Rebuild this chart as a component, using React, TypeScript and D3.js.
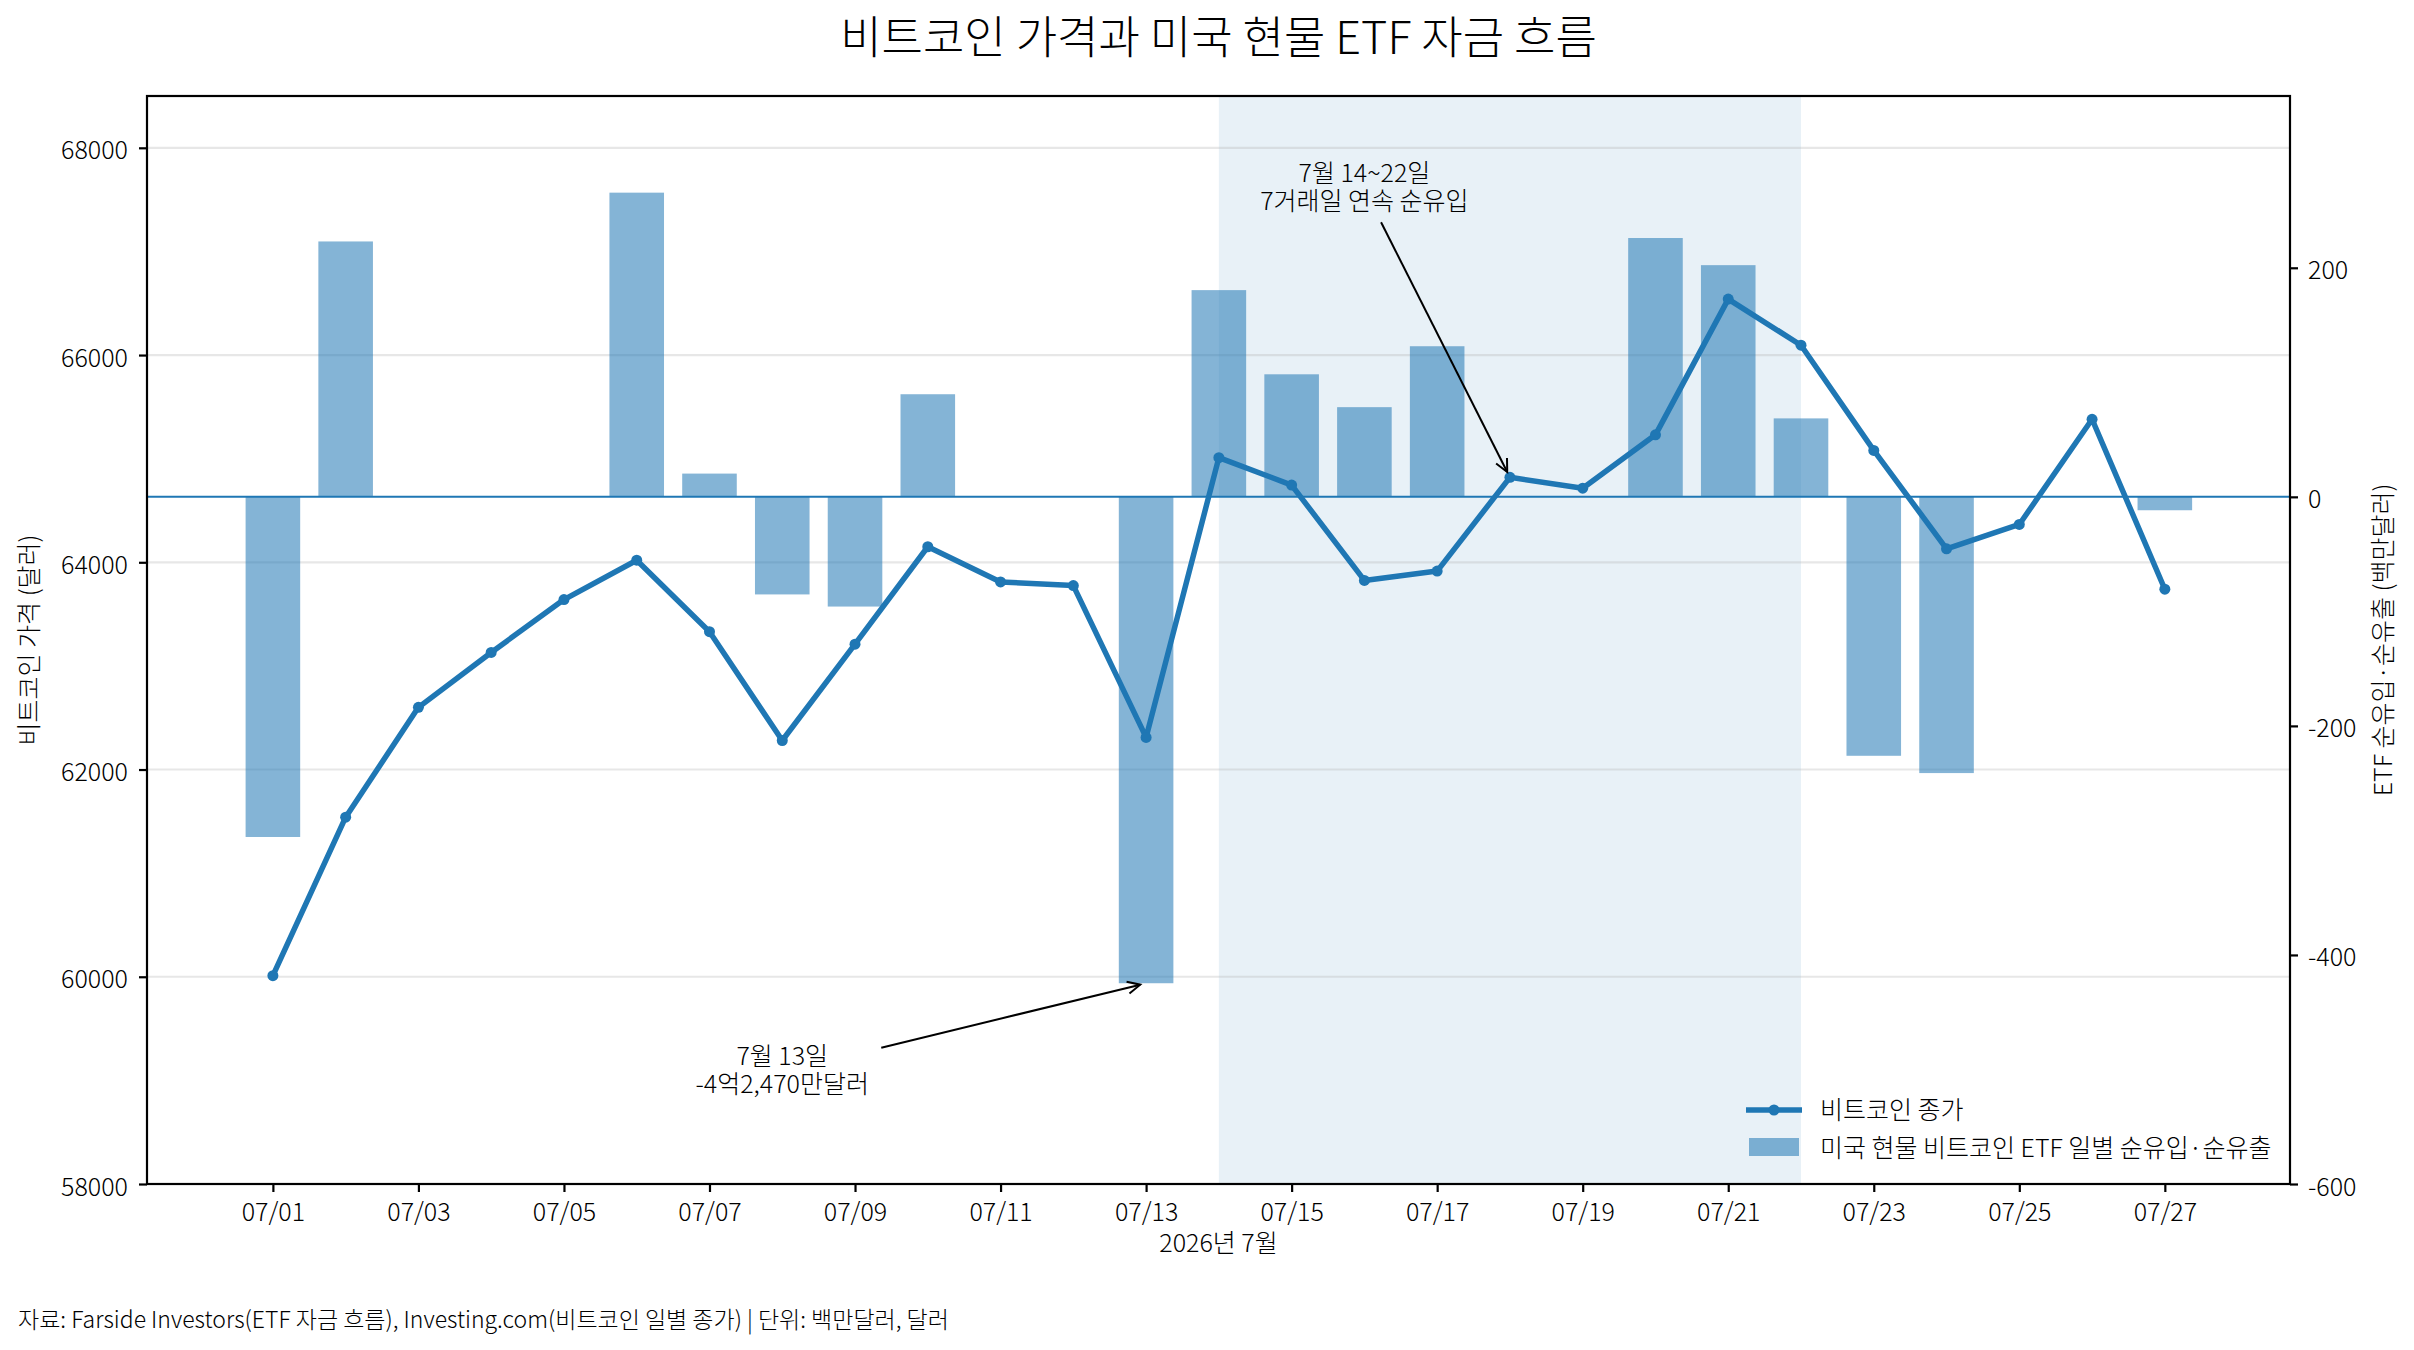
import * as d3 from "d3";
import { useEffect, useRef } from "react";

// Chart values
const days = [
  "2026-07-01", "2026-07-02", "2026-07-03", "2026-07-04", "2026-07-05", "2026-07-06", "2026-07-07",
  "2026-07-08", "2026-07-09", "2026-07-10", "2026-07-11", "2026-07-12", "2026-07-13", "2026-07-14",
  "2026-07-15", "2026-07-16", "2026-07-17", "2026-07-18", "2026-07-19", "2026-07-20", "2026-07-21",
  "2026-07-22", "2026-07-23", "2026-07-24", "2026-07-25", "2026-07-26", "2026-07-27",
];
const btcClose = [
  60010, 61540, 62600, 63130, 63640, 64020, 63330, 62280, 63210, 64150, 63810, 63775, 62310, 65010,
  64745, 63825, 63915, 64820, 64715, 65230, 66540, 66095, 65080, 64130, 64365, 65380, 63740,
];
const flowDays = [
  "2026-07-01", "2026-07-02", "2026-07-06", "2026-07-07", "2026-07-08", "2026-07-09", "2026-07-10",
  "2026-07-13", "2026-07-14", "2026-07-15", "2026-07-16", "2026-07-17", "2026-07-20", "2026-07-21",
  "2026-07-22", "2026-07-23", "2026-07-24", "2026-07-27",
];
const etfFlow = [
  -297, 223, 265.6, 20.3, -85.2, -95.8, 89.6, -424.7, 180.5, 107, 78.3, 131.5, 226, 202.3, 68.5,
  -226.1, -241.2, -11.7,
];
const xTickDays = [
  "2026-07-01", "2026-07-03", "2026-07-05", "2026-07-07", "2026-07-09", "2026-07-11", "2026-07-13",
  "2026-07-15", "2026-07-17", "2026-07-19", "2026-07-21", "2026-07-23", "2026-07-25", "2026-07-27",
];
const priceTicks = [58000, 60000, 62000, 64000, 66000, 68000];
const flowTicks = [-600, -400, -200, 0, 200];
const streakSpan = ["2026-07-14", "2026-07-22"];

const WIDTH = 2414;
const HEIGHT = 1350;
const FONT = '"Noto Sans CJK KR", "Noto Sans", sans-serif';
const BLUE = "#1f77b4";
const DAY = 864e5;

const parse = d3.timeParse("%Y-%m-%d");

const App = () => {
  const ref = useRef(null);

  useEffect(() => {
    if (ref && ref.current) ref.current.innerHTML = "";

    const margin = { top: 96, right: 124, bottom: 166, left: 147 };
    const x0 = margin.left, x1 = WIDTH - margin.right;
    const y0 = margin.top, y1 = HEIGHT - margin.bottom;

    const first = parse(days[0]), last = parse(days[days.length - 1]);
    const x = d3.scaleTime()
      .domain([new Date(+first - 1.73 * DAY), new Date(+last + 1.72 * DAY)])
      .range([x0, x1]);
    const yPrice = d3.scaleLinear().domain([58000, 68500]).range([y1, y0]);
    const yFlow = d3.scaleLinear().domain([-600, 350]).range([y1, y0]);

    const svg = d3.select(ref.current)
      .attr("width", WIDTH)
      .attr("height", HEIGHT)
      .attr("viewBox", [0, 0, WIDTH, HEIGHT])
      .style("font-family", FONT)
      .style("font-weight", 300);

    svg.append("rect").attr("width", WIDTH).attr("height", HEIGHT).attr("fill", "#fff");

    // Title
    svg.append("text")
      .attr("x", (x0 + x1) / 2)
      .attr("y", 54)
      .attr("text-anchor", "middle")
      .attr("font-size", 45)
      .attr("fill", "#000")
      .text("비트코인 가격과 미국 현물 ETF 자금 흐름");

    const plot = svg.append("g");
    const clip = svg.append("clipPath").attr("id", "plot-clip");
    clip.append("rect").attr("x", x0).attr("y", y0).attr("width", x1 - x0).attr("height", y1 - y0);
    plot.attr("clip-path", "url(#plot-clip)");

    // Shaded inflow streak
    plot.append("rect")
      .attr("x", x(parse(streakSpan[0])))
      .attr("y", y0)
      .attr("width", x(parse(streakSpan[1])) - x(parse(streakSpan[0])))
      .attr("height", y1 - y0)
      .attr("fill", BLUE)
      .attr("fill-opacity", 0.1);

    // Grid
    plot.selectAll("line.grid")
      .data(priceTicks)
      .join("line")
      .attr("class", "grid")
      .attr("x1", x0).attr("x2", x1)
      .attr("y1", d => yPrice(d)).attr("y2", d => yPrice(d))
      .attr("stroke", "#b0b0b0")
      .attr("stroke-opacity", 0.3)
      .attr("stroke-width", 2.2);

    // ETF flow bars
    const barW = x(new Date(+first + 0.75 * DAY)) - x(first);
    plot.selectAll("rect.bar")
      .data(flowDays.map((d, i) => ({ date: parse(d), v: etfFlow[i] })))
      .join("rect")
      .attr("class", "bar")
      .attr("x", d => x(d.date) - barW / 2)
      .attr("width", barW)
      .attr("y", d => yFlow(Math.max(0, d.v)))
      .attr("height", d => Math.abs(yFlow(d.v) - yFlow(0)))
      .attr("fill", BLUE)
      .attr("fill-opacity", 0.55);

    // Zero line on flow axis
    plot.append("line")
      .attr("x1", x0).attr("x2", x1)
      .attr("y1", yFlow(0)).attr("y2", yFlow(0))
      .attr("stroke", BLUE)
      .attr("stroke-width", 2);

    // Price line
    const pts = days.map((d, i) => ({ date: parse(d), v: btcClose[i] }));
    const line = d3.line().x(d => x(d.date)).y(d => yPrice(d.v));
    plot.append("path")
      .datum(pts)
      .attr("d", line)
      .attr("fill", "none")
      .attr("stroke", BLUE)
      .attr("stroke-width", 5.5)
      .attr("stroke-linejoin", "round");
    plot.selectAll("circle.pt")
      .data(pts)
      .join("circle")
      .attr("class", "pt")
      .attr("cx", d => x(d.date))
      .attr("cy", d => yPrice(d.v))
      .attr("r", 5.5)
      .attr("fill", BLUE);

    // Spines
    svg.append("rect")
      .attr("x", x0).attr("y", y0)
      .attr("width", x1 - x0).attr("height", y1 - y0)
      .attr("fill", "none")
      .attr("stroke", "#000")
      .attr("stroke-width", 2.2);

    // Axes
    const styleAxis = (g) => {
      g.select(".domain").remove();
      g.selectAll(".tick line").attr("stroke", "#000").attr("stroke-width", 2.2);
      g.selectAll(".tick text").attr("fill", "#000").attr("font-size", 25).attr("font-family", FONT);
    };
    svg.append("g")
      .attr("transform", `translate(0,${y1})`)
      .call(d3.axisBottom(x)
        .tickValues(xTickDays.map(parse))
        .tickFormat(d3.timeFormat("%m/%d"))
        .tickSize(8)
        .tickPadding(11))
      .call(styleAxis);
    svg.append("g")
      .attr("transform", `translate(${x0},0)`)
      .call(d3.axisLeft(yPrice).tickValues(priceTicks).tickFormat(d3.format("d")).tickSize(8).tickPadding(11))
      .call(styleAxis)
      .call(g => g.selectAll(".tick text").attr("dy", "0.44em"));
    svg.append("g")
      .attr("transform", `translate(${x1},0)`)
      .call(d3.axisRight(yFlow).tickValues(flowTicks).tickFormat(d3.format("d")).tickSize(8).tickPadding(10))
      .call(styleAxis)
      .call(g => g.selectAll(".tick text").attr("dy", "0.44em").text(d => (d < 0 ? "-" + Math.abs(d) : d)));

    // Axis labels
    svg.append("text")
      .attr("x", (x0 + x1) / 2).attr("y", 1252)
      .attr("text-anchor", "middle").attr("font-size", 25)
      .text("2026년 7월");
    svg.append("text")
      .attr("transform", `translate(38,${(y0 + y1) / 2}) rotate(-90)`)
      .attr("text-anchor", "middle").attr("font-size", 25)
      .text("비트코인 가격 (달러)");
    svg.append("text")
      .attr("transform", `translate(2392,${(y0 + y1) / 2}) rotate(-90)`)
      .attr("text-anchor", "middle").attr("font-size", 25)
      .text("ETF 순유입·순유출 (백만달러)");

    // Annotations
    const arrow = (sx, sy, tx, ty) => {
      const ang = Math.atan2(ty - sy, tx - sx);
      const len = 14, spread = 0.45;
      svg.append("line")
        .attr("x1", sx).attr("y1", sy).attr("x2", tx).attr("y2", ty)
        .attr("stroke", "#000").attr("stroke-width", 2);
      svg.append("path")
        .attr("d", `M${tx - len * Math.cos(ang - spread)},${ty - len * Math.sin(ang - spread)}L${tx},${ty}L${tx - len * Math.cos(ang + spread)},${ty - len * Math.sin(ang + spread)}`)
        .attr("fill", "none").attr("stroke", "#000").attr("stroke-width", 2);
    };
    const annotate = (lines, cx, cy, halfW, halfH, tx, ty) => {
      const t = svg.append("text").attr("text-anchor", "middle").attr("font-size", 25);
      lines.forEach((s, i) => t.append("tspan").attr("x", cx).attr("y", cy + 7 + (i - 0.5) * 28).text(s));
      const dx = tx - cx, dy = ty - cy;
      const k = Math.min((halfW + 8) / Math.abs(dx || 1e-9), (halfH + 8) / Math.abs(dy || 1e-9));
      const sx = cx + dx * k, sy = cy + dy * k;
      const d = Math.hypot(tx - sx, ty - sy);
      const shrink = 6;
      arrow(sx, sy, tx - (tx - sx) / d * shrink, ty - (ty - sy) / d * shrink);
    };
    const i18 = days.indexOf("2026-07-18");
    annotate(["7월 14~22일", "7거래일 연속 순유입"],
      x(parse("2026-07-16")), yPrice(67600), 104, 25,
      x(parse(days[i18])), yPrice(btcClose[i18]));
    const i13 = flowDays.indexOf("2026-07-13");
    annotate(["7월 13일", "-4억2,470만달러"],
      x(parse("2026-07-08")), yFlow(-502), 91, 25,
      x(parse(flowDays[i13])), yFlow(etfFlow[i13]));

    // Legend
    const lg = svg.append("g").attr("font-size", 25);
    lg.append("line").attr("x1", 1746).attr("x2", 1802).attr("y1", 1110).attr("y2", 1110)
      .attr("stroke", BLUE).attr("stroke-width", 5.5);
    lg.append("circle").attr("cx", 1774).attr("cy", 1110).attr("r", 5.5).attr("fill", BLUE);
    lg.append("text").attr("x", 1820).attr("y", 1119).text("비트코인 종가");
    lg.append("rect").attr("x", 1749).attr("y", 1138).attr("width", 50).attr("height", 18)
      .attr("fill", BLUE).attr("fill-opacity", 0.55);
    lg.append("text").attr("x", 1820).attr("y", 1157).text("미국 현물 비트코인 ETF 일별 순유입·순유출");

    // Source note
    svg.append("text")
      .attr("x", 18).attr("y", 1328).attr("font-size", 23)
      .text("자료: Farside Investors(ETF 자금 흐름), Investing.com(비트코인 일별 종가) | 단위: 백만달러, 달러");
  }, []);

  return (
    <svg
      ref={ref}
      style={{ position: "absolute", left: 0, top: 0, display: "block" }}
    />
  );
};

export default App;
